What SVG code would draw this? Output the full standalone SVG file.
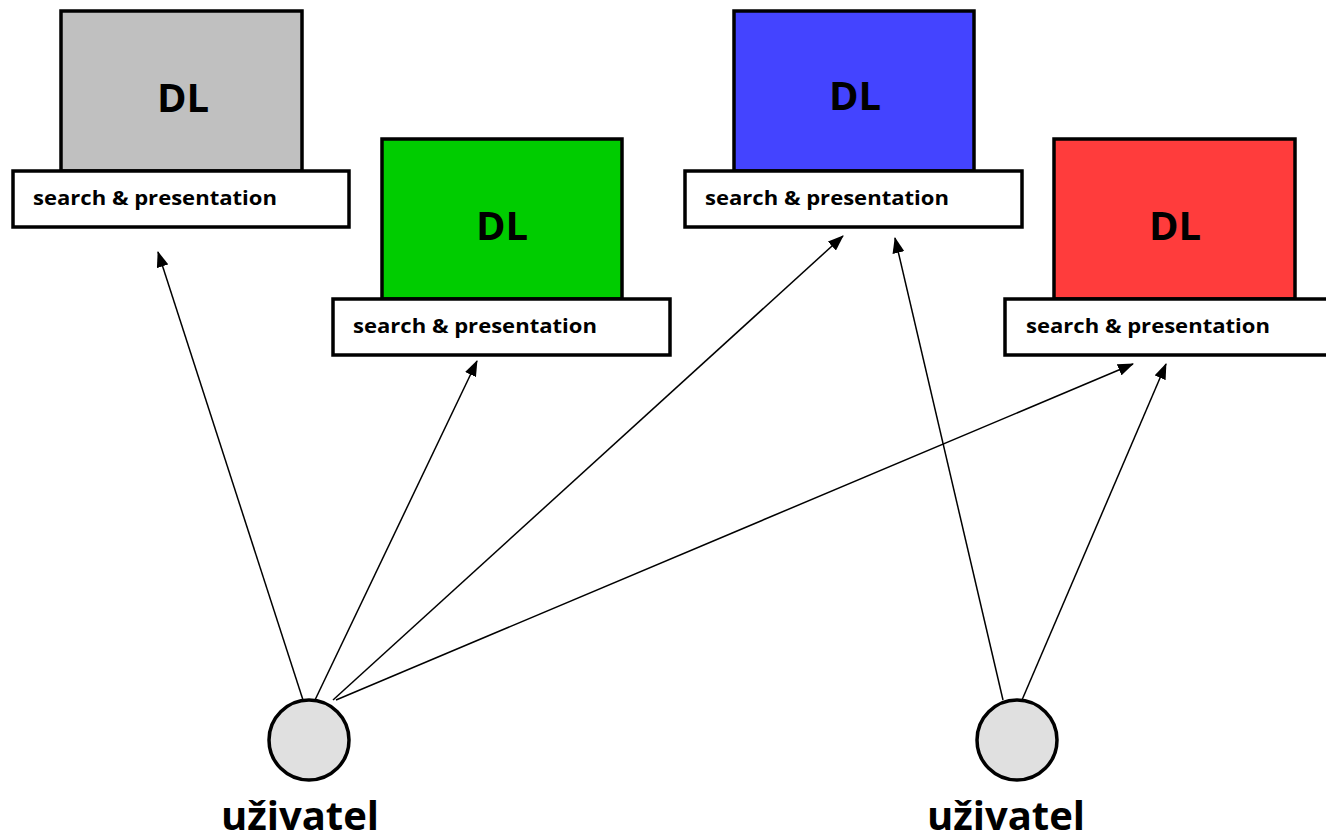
<svg xmlns="http://www.w3.org/2000/svg" width="1326" height="837" viewBox="0 0 1326 837">
<style>
.dl{stroke:#000;stroke-width:3.5}
.sp{fill:#fff;stroke:#000;stroke-width:3.5}
.t{font-family:"Open Sans","Liberation Sans",sans-serif;font-weight:bold;fill:#000}
.big{font-size:40px;text-anchor:middle}
.small{font-size:20px}
.u{fill:#e0e0e0;stroke:#000;stroke-width:3.5}
.c{stroke:#000;stroke-width:1.5;fill:none;marker-end:url(#ah)}
</style>
<defs>
<marker id="ah" viewBox="0 0 16 12" refX="15" refY="6" markerWidth="16" markerHeight="12" markerUnits="userSpaceOnUse" orient="auto">
<path d="M0,0 L16,6 L0,12 Z" fill="#000"/>
</marker>
</defs>
<g id="dl-gray">
<rect class="dl" x="61" y="11" width="241" height="160" fill="#c0c0c0"/>
<text class="t big" x="183" y="112">DL</text>
<rect class="sp" x="13" y="171" width="336" height="56"/>
<text class="t small" x="33" y="205" textLength="244" lengthAdjust="spacingAndGlyphs">search &amp; presentation</text>
</g>
<g id="dl-green">
<rect class="dl" x="382" y="139" width="240" height="160" fill="#00cc00"/>
<text class="t big" x="502" y="240">DL</text>
<rect class="sp" x="333" y="299" width="337" height="56"/>
<text class="t small" x="353" y="333" textLength="244" lengthAdjust="spacingAndGlyphs">search &amp; presentation</text>
</g>
<g id="dl-blue">
<rect class="dl" x="734" y="11" width="240" height="160" fill="#4444ff"/>
<text class="t big" x="855" y="110">DL</text>
<rect class="sp" x="685" y="171" width="337" height="56"/>
<text class="t small" x="705" y="205" textLength="244" lengthAdjust="spacingAndGlyphs">search &amp; presentation</text>
</g>
<g id="dl-red">
<rect class="dl" x="1054" y="139" width="241" height="160" fill="#ff3c3c"/>
<text class="t big" x="1175" y="240">DL</text>
<rect class="sp" x="1005" y="299" width="340" height="56"/>
<text class="t small" x="1026" y="333" textLength="244" lengthAdjust="spacingAndGlyphs">search &amp; presentation</text>
</g>
<g id="user-left">
<circle class="u" cx="309" cy="740" r="40"/>
<text class="t big" x="300" y="830">uživatel</text>
</g>
<g id="user-right">
<circle class="u" cx="1017" cy="740" r="40"/>
<text class="t big" x="1006" y="830">uživatel</text>
</g>
<g id="connectors">
<line class="c" x1="303" y1="700" x2="158" y2="252"/>
<line class="c" x1="315" y1="700" x2="477" y2="361"/>
<line class="c" x1="333" y1="700" x2="843" y2="236"/>
<line class="c" x1="336" y1="700" x2="1133" y2="364"/>
<line class="c" x1="1003" y1="700" x2="895" y2="238"/>
<line class="c" x1="1022" y1="700" x2="1166" y2="364"/>
</g>
</svg>
